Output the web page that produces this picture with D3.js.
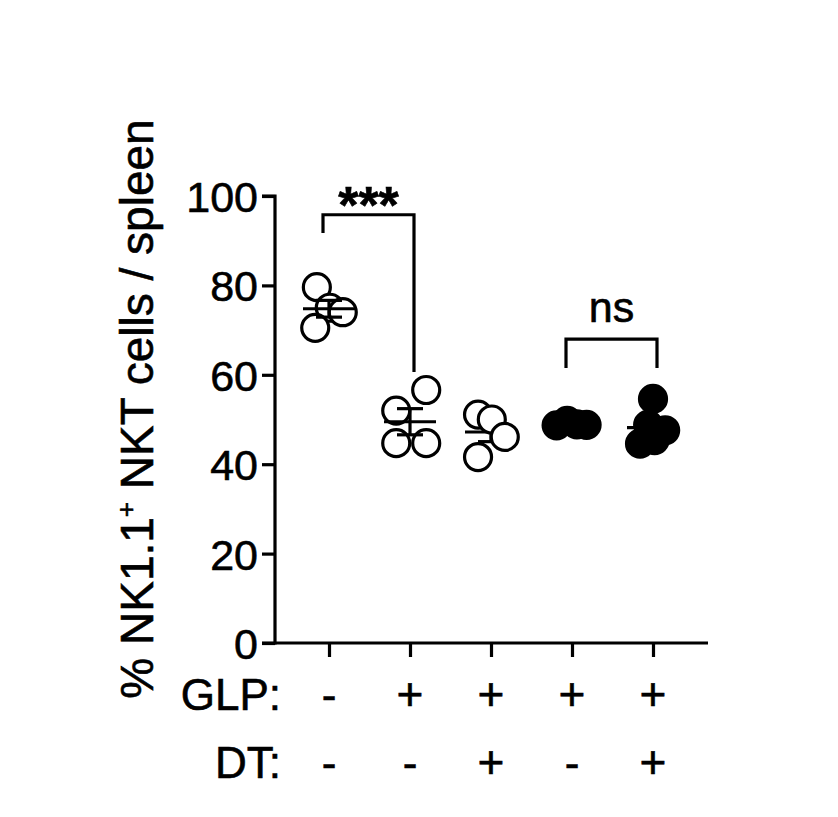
<!DOCTYPE html>
<html>
<head>
<meta charset="utf-8">
<script src="https://cdn.jsdelivr.net/npm/d3@7/dist/d3.min.js"></script>
<style>
  html, body { margin: 0; padding: 0; background: #fff; }
  svg { display: block; }
  text { font-family: "Liberation Sans", Arial, Helvetica, sans-serif; fill: #000; stroke: #000; stroke-width: 0.6px; }
</style>
</head>
<body>
<svg id="chart" width="838" height="817"></svg>
<script>
// ---------------- data ----------------
const groups = ["G1", "G2", "G3", "G4", "G5"];
const glpLabels = ["-", "+", "+", "+", "+"];
const dtLabels = ["-", "-", "+", "-", "+"];
const filled = [false, false, false, true, true];
const values1 = [79.6, 75.0, 74.0, 70.5];
const values2 = [56.6, 52.0, 44.7, 44.7];
const values3 = [51.1, 50.0, 46.1, 41.6];
const values4 = [48.7, 49.7, 48.9, 48.8];
const values5 = [54.6, 48.8, 47.6, 45.4, 44.6];
// horizontal jitter, in category units
const jitter1 = [-0.15, 0.01, 0.17, -0.17];
const jitter2 = [0.2, -0.17, -0.17, 0.2];
const jitter3 = [-0.16, 0.01, 0.17, -0.16];
const jitter4 = [-0.19, -0.06, 0.06, 0.18];
const jitter5 = [0.0, -0.06, 0.15, 0.02, -0.16];
const yTicks = [0, 20, 40, 60, 80, 100];
const yLabelMain = "% NK1.1";
const yLabelSup = "+";
const yLabelRest = " NKT cells / spleen";
const comparisons = [
  { from: 0, to: 1, label: "***", y: 95.8, leftEnd: 91.7, rightEnd: 60.6, bold: true },
  { from: 3, to: 4, label: "ns", y: 68.0, leftEnd: 61.5, rightEnd: 61.5, bold: false }
];

const allValues = [values1, values2, values3, values4, values5];
const allJitter = [jitter1, jitter2, jitter3, jitter4, jitter5];

// ---------------- layout ----------------
const svg = d3.select("#chart");
const axisLeft = 275, axisRight = 708, axisTop = 196, axisBottom = 643;

const y = d3.scaleLinear().domain([0, 100]).range([axisBottom, axisTop]);
const x = d3.scalePoint().domain(d3.range(groups.length)).range([329, 653]);
const step = x.step();

const STROKE = 3.2;
const R = 13.5;

// ---------------- axes ----------------
const yAxis = d3.axisLeft(y).tickValues(yTicks).tickSize(13).tickPadding(4).tickFormat(d3.format("d"));
const gy = svg.append("g").attr("transform", `translate(${axisLeft},0)`).call(yAxis);
gy.select(".domain").attr("d", `M-13,${axisTop}H0V${axisBottom}H-13`).attr("stroke", "#000").attr("stroke-width", STROKE).attr("fill", "none");
gy.selectAll(".tick line").attr("stroke", "#000").attr("stroke-width", STROKE);
gy.selectAll(".tick text").attr("font-size", 43).attr("fill", "#000")
  .attr("font-family", "Liberation Sans, Arial, sans-serif").attr("dy", "0.36em");

const xAxis = d3.axisBottom(x).tickSize(14).tickFormat(() => "");
const gx = svg.append("g").attr("transform", `translate(0,${axisBottom})`).call(xAxis);
gx.select(".domain").attr("d", `M${axisLeft},0H${axisRight}`).attr("stroke", "#000").attr("stroke-width", STROKE);
gx.selectAll(".tick line").attr("stroke", "#000").attr("stroke-width", STROKE);

// ---------------- y label ----------------
const yl = svg.append("text")
  .attr("transform", `translate(153,409) rotate(-90)`)
  .attr("text-anchor", "middle")
  .attr("font-size", 46);
yl.append("tspan").text(yLabelMain);
yl.append("tspan").text(yLabelSup).attr("font-size", 26).attr("dy", -18);
yl.append("tspan").text(yLabelRest).attr("dy", 18);

// ---------------- data marks ----------------
const barsOnTop = [true, true, false, false, false];

allValues.forEach((vals, gi) => {
  const g = svg.append("g");
  const cx = x(gi);
  const mean = d3.mean(vals);
  const sem = d3.deviation(vals) / Math.sqrt(vals.length);

  const drawBars = () => {
    const b = g.append("g").attr("stroke", "#000").attr("stroke-width", STROKE).attr("fill", "none");
    b.append("line").attr("x1", cx - 26).attr("x2", cx + 26).attr("y1", y(mean)).attr("y2", y(mean));
    b.append("line").attr("x1", cx).attr("x2", cx).attr("y1", y(mean + sem)).attr("y2", y(mean - sem));
    b.append("line").attr("x1", cx - 13).attr("x2", cx + 13).attr("y1", y(mean + sem)).attr("y2", y(mean + sem));
    b.append("line").attr("x1", cx - 13).attr("x2", cx + 13).attr("y1", y(mean - sem)).attr("y2", y(mean - sem));
  };
  const drawPoints = () => {
    g.append("g").selectAll("circle").data(vals).join("circle")
      .attr("cx", (d, i) => cx + allJitter[gi][i] * step)
      .attr("cy", d => y(d))
      .attr("r", R)
      .attr("fill", filled[gi] ? "#000" : "#fff")
      .attr("stroke", "#000")
      .attr("stroke-width", STROKE);
  };
  if (barsOnTop[gi]) { drawPoints(); drawBars(); } else { drawBars(); drawPoints(); }
});

// ---------------- significance brackets ----------------
comparisons.forEach(c => {
  const x1 = x(c.from) - 6, x2 = x(c.to) + 4;
  svg.append("path")
    .attr("d", `M${x1},${y(c.leftEnd)}V${y(c.y)}H${x2}V${y(c.rightEnd)}`)
    .attr("fill", "none").attr("stroke", "#000").attr("stroke-width", STROKE);
  svg.append("text")
    .attr("x", (x1 + x2) / 2)
    .attr("y", c.bold ? y(c.y) + 8 : y(c.y) - 17)
    .attr("text-anchor", "middle")
    .attr("font-size", c.bold ? 52 : 43)
    .attr("font-weight", c.bold ? "bold" : "normal")
    .text(c.label);
});

// ---------------- condition rows ----------------
const rows = [
  { label: "GLP:", marks: glpLabels, baseline: 710 },
  { label: "DT:", marks: dtLabels, baseline: 778 }
];
rows.forEach(r => {
  svg.append("text").attr("x", 281).attr("y", r.baseline).attr("text-anchor", "end")
    .attr("font-size", 44).text(r.label);
  svg.append("g").selectAll("text").data(r.marks).join("text")
    .attr("x", (d, i) => x(i))
    .attr("y", r.baseline)
    .attr("text-anchor", "middle")
    .attr("font-size", d => d === "+" ? 46 : 44)
    .attr("stroke-width", d => d === "+" ? 1.2 : 1.4)
    .text(d => d);
});
</script>
</body>
</html>
